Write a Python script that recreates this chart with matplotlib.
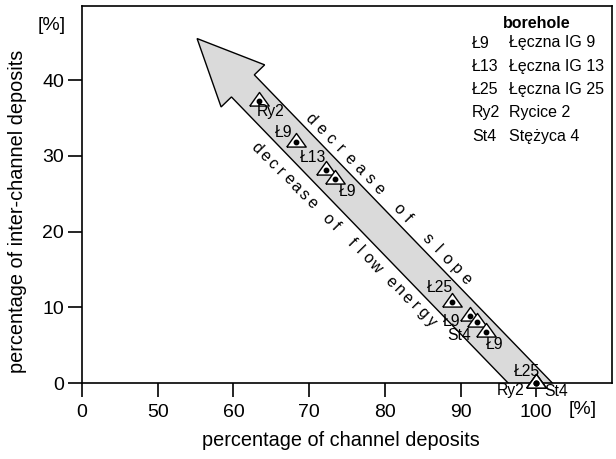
import numpy as np
import matplotlib
matplotlib.use("Agg")
import matplotlib.pyplot as plt
from matplotlib.patches import FancyArrow

plt.rcParams['font.family'] = ['Liberation Sans', 'DejaVu Sans']

# percentage of channel deposits / inter-channel deposits for each sample
channel = [63.4, 68.3, 72.2, 73.4, 88.9, 91.2, 92.2, 93.3, 100.0, 100.0, 100.0]
inter_channel = [37.2, 31.9, 28.1, 26.9, 10.7, 8.8, 8.0, 6.7, 0.0, 0.0, 0.0]
point_labels = ['Ry2', 'Ł9', 'Ł13', 'Ł9', 'Ł25', 'Ł9', 'St4', 'Ł9', 'Ł25', 'Ry2', 'St4']

x_ticks = [40, 50, 60, 70, 80, 90, 100]
x_tick_labels = ['0', '50', '60', '70', '80', '90', '100']
y_ticks = [0, 10, 20, 30, 40]

legend_codes = ['Ł9', 'Ł13', 'Ł25', 'Ry2', 'St4']
legend_names = ['Łęczna IG 9', 'Łęczna IG 13', 'Łęczna IG 25', 'Rycice 2', 'Stężyca 4']

# label offsets in pixels (dx, dy) from each point
label_offsets = [(11, -10), (-13, 9), (-13, 13), (13, -12), (-12, 14), (-18, -5),
                 (-18, -13), (9, -12), (-9, 12), (-26, -8), (20, -9)]

fig = plt.figure(figsize=(6.16, 4.59), dpi=100)
ax = fig.add_axes([82 / 616, 1 - 383 / 459, 530 / 616, 377 / 459])
ax.set_xlim(40, 110)
ax.set_ylim(0, 49.8)

# trend arrow
arrow = FancyArrow(102.1, -3, -46.9, 48.5, width=4.2, head_width=8.0,
                   head_length=8.7, length_includes_head=True,
                   facecolor='#dadada', edgecolor='black', linewidth=1.0, zorder=1)
ax.add_patch(arrow)


def spaced_text(text, start, end, size=11.5):
    # put letters one by one on a straight line between start and end
    n = len(text)
    xs = np.linspace(start[0], end[0], n)
    ys = np.linspace(start[1], end[1], n)
    for ch, xv, yv in zip(text, xs, ys):
        if ch == ' ':
            continue
        ax.text(xv, yv, ch, rotation=-45.5, rotation_mode='anchor',
                ha='center', va='center_baseline', fontsize=size)


spaced_text('decrease of slope', (70.4, 35.0), (90.85, 13.9))
spaced_text('decrease of flow energy', (63.2, 31.2), (86.2, 8.3))

tri = [(-1, -0.47), (1, -0.47), (0, 0.93), (-1, -0.47)]
ax.plot(channel, inter_channel, linestyle='none', marker=tri, markersize=14,
        markerfacecolor='white', markeredgecolor='black', markeredgewidth=1.0,
        clip_on=False, zorder=3)
ax.plot(channel, inter_channel, linestyle='none', marker='o', markersize=3.2,
        color='black', clip_on=False, zorder=4)

for xv, yv, lab, off in zip(channel, inter_channel, point_labels, label_offsets):
    ax.annotate(lab, (xv, yv), xytext=off, textcoords='offset pixels',
                ha='center', va='center', fontsize=11.3, zorder=5,
                annotation_clip=False)

ax.set_xticks(x_ticks)
ax.set_xticklabels(x_tick_labels)
ax.set_yticks(y_ticks)
ax.tick_params(axis='both', direction='out', length=10, width=1.2, labelsize=14)
ax.tick_params(axis='x', pad=5)
ax.tick_params(axis='y', pad=3)
for sp in ax.spines.values():
    sp.set_linewidth(1.2)

ax.set_xlabel('percentage of channel deposits', fontsize=14.3)
ax.set_ylabel('percentage of inter-channel deposits', fontsize=14.3)
ax.xaxis.set_label_coords(0.489, -0.128)
ax.yaxis.set_label_coords(-0.104, 0.456)

fig.text(52 / 616, 1 - 25 / 459, '[%]', ha='center', va='center', fontsize=14)
fig.text(583 / 616, 1 - 410 / 459, '[%]', ha='center', va='center', fontsize=14)

# borehole legend
fig.text(537 / 616, 1 - 23 / 459, 'borehole', ha='center', va='center',
         fontsize=11.5, fontweight='bold')
for i, (code, name) in enumerate(zip(legend_codes, legend_names)):
    yy = 1 - (43 + i * 23.3) / 459
    fig.text(472 / 616, yy, code, ha='left', va='center', fontsize=11.5)
    fig.text(509 / 616, yy, name, ha='left', va='center', fontsize=11.5)

fig.savefig('out.png', dpi=100)
